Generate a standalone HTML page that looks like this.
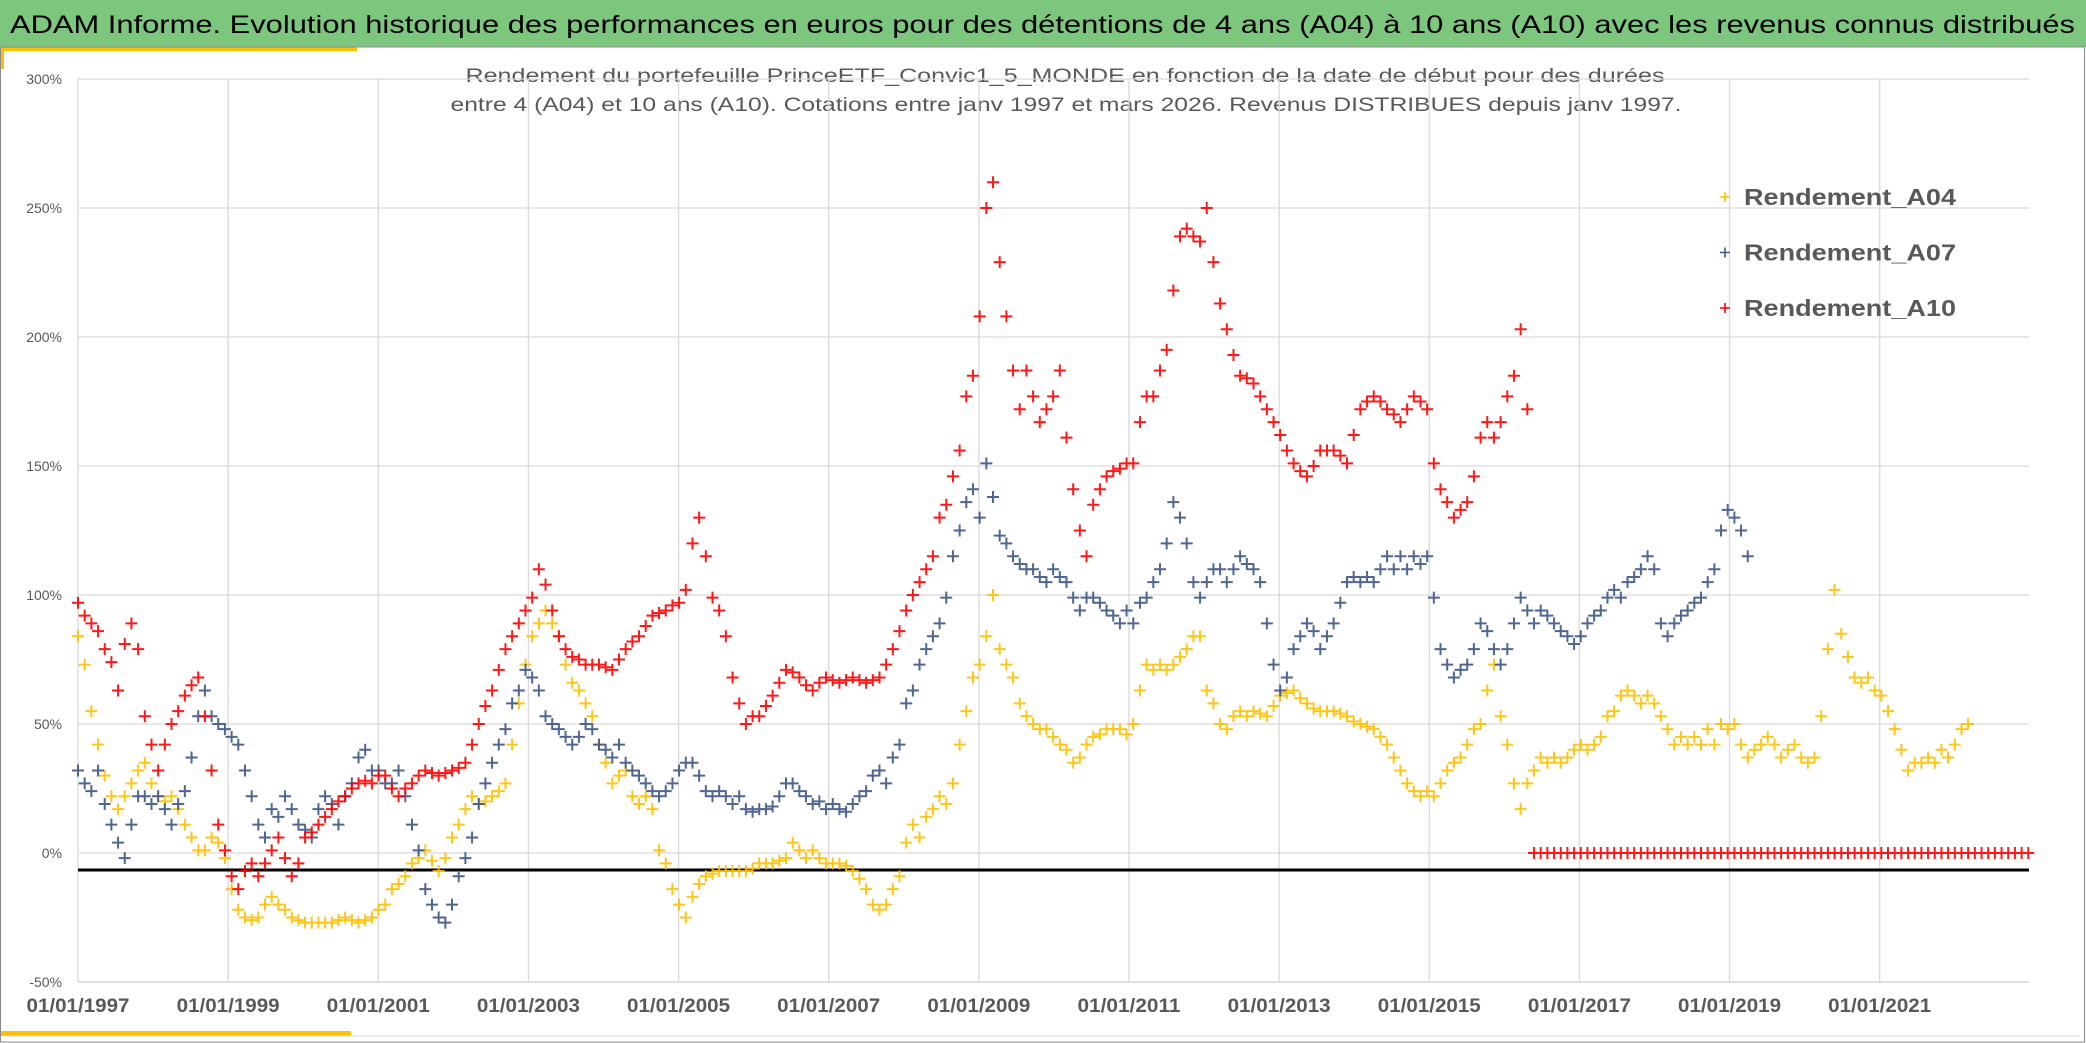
<!DOCTYPE html>
<html><head><meta charset="utf-8"><style>
html,body{margin:0;padding:0;background:#fff;}
svg{display:block;font-family:"Liberation Sans",sans-serif;}
</style></head><body>
<svg id="chart" width="2086" height="1043" viewBox="0 0 2086 1043" xmlns="http://www.w3.org/2000/svg">
<rect x="0" y="0" width="2086" height="1043" fill="#fff"/>
<rect x="0" y="0" width="2086" height="47" fill="#7cc67e"/>
<text x="10" y="33" font-size="25" fill="#000" textLength="2065" lengthAdjust="spacingAndGlyphs">ADAM Informe. Evolution historique des performances en euros pour des détentions de 4 ans (A04) à 10 ans (A10) avec les revenus connus distribués</text>
<rect x="0" y="47" width="357" height="4" fill="#ffc000"/>
<rect x="0" y="47" width="4" height="22" fill="#ffc000"/>
<rect x="0" y="1031" width="351" height="5" fill="#ffc000"/>
<rect x="0.5" y="47" width="2084" height="995" fill="none" stroke="#8a8a8a" stroke-width="1"/>
<line x1="4" y1="1036" x2="2080" y2="1036" stroke="#d9d9d9" stroke-width="1"/>
<text x="1065" y="82" font-size="19" fill="#595959" text-anchor="middle" textLength="1199" lengthAdjust="spacingAndGlyphs">Rendement du portefeuille PrinceETF_Convic1_5_MONDE  en fonction de la date de début pour des durées</text>
<text x="1066" y="111" font-size="19" fill="#595959" text-anchor="middle" textLength="1231" lengthAdjust="spacingAndGlyphs">entre 4 (A04) et 10 ans (A10). Cotations entre janv 1997 et mars 2026. Revenus DISTRIBUES depuis janv 1997.</text>
<g id="grid"></g>
<g id="marks"></g>
<g id="legend"></g>
</svg>
<script>
const yTicks = [-50, 0, 50, 100, 150, 200, 250, 300];
const yTickLabels = ["-50%","0%","50%","100%","150%","200%","250%","300%"];
const xTickYears = [1997,1999,2001,2003,2005,2007,2009,2011,2013,2015,2017,2019,2021];
const xTickLabels = ["01/01/1997","01/01/1999","01/01/2001","01/01/2003","01/01/2005","01/01/2007","01/01/2009","01/01/2011","01/01/2013","01/01/2015","01/01/2017","01/01/2019","01/01/2021"];
const seriesNames = ["Rendement_A04","Rendement_A07","Rendement_A10"];
const startYear = 1997.0;
const stepYears = 0.08897; // one observation every ~32.5 days
const baselineValue = -6.6;

const a04Values = [84,73,55,42,30,22,17,22,27,32,35,27,22,20,22,17,11,6,1,1,6,4,-2,-14,-22,-25,-26,-25,-20,-17,-20,-22,-25,-26,-27,-27,-27,-27,-27,-26,-25,-26,-27,-26,-25,-22,-20,-14,-12,-9,-4,-2,1,-3,-7,-2,6,11,17,22,19,20,22,24,27,42,58,73,84,89,94,89,84,73,66,63,58,53,42,35,27,30,32,22,19,22,17,1,-4,-14,-20,-25,-17,-12,-9,-8,-7,-7,-7,-7,-7,-6,-4,-4,-4,-3,-2,4,1,-2,1,-2,-4,-4,-4,-5,-7,-10,-14,-20,-22,-20,-14,-9,4,11,6,14,17,22,19,27,42,55,68,73,84,100,79,73,68,58,53,50,48,48,45,42,40,35,37,42,45,46,48,48,48,46,50,63,73,71,73,71,73,76,79,84,84,63,58,50,48,53,55,53,55,54,53,57,61,62,63,60,58,56,55,55,55,54,53,51,50,49,48,45,42,37,32,27,24,22,24,22,27,32,35,37,42,48,50,63,73,53,42,27,17,27,32,37,35,37,35,37,40,42,40,42,45,53,55,61,63,61,58,61,58,53,48,42,45,42,45,42,48,42,50,48,50,42,37,40,42,45,42,37,40,42,37,35,37,53,79,102,85,76,68,66,68,63,61,55,48,40,32,35,35,37,35,40,37,42,48,50];

const a07Values = [32,27,24,32,19,11,4,-2,11,22,22,19,22,17,11,19,24,37,53,63,53,50,48,45,42,32,22,11,6,17,14,22,17,11,9,6,17,22,19,11,22,27,37,40,32,32,27,27,32,22,11,1,-14,-20,-25,-27,-20,-9,-2,6,19,27,35,42,48,58,63,71,68,63,53,50,48,45,42,45,50,48,42,40,37,42,35,32,30,27,24,22,24,27,32,35,35,30,24,22,24,22,19,22,17,16,17,17,18,22,27,27,24,22,19,20,17,19,17,16,19,22,24,30,32,27,37,42,58,63,73,79,84,89,99,115,125,136,141,130,151,138,123,120,115,112,110,110,107,105,110,107,105,99,94,99,99,97,94,92,89,94,89,97,99,105,110,120,136,130,120,105,99,105,110,110,105,110,115,112,110,105,89,73,63,68,79,84,89,86,79,84,89,97,105,107,105,107,105,110,115,110,115,110,115,112,115,99,79,73,68,71,73,79,89,86,79,73,79,89,99,94,89,94,92,89,86,84,81,84,89,92,94,99,102,99,105,107,110,115,110,89,84,89,92,94,97,99,105,110,125,133,130,125,115];

const a10Values = [97,92,89,86,79,74,63,81,89,79,53,42,32,42,50,55,61,65,68,53,32,11,1,-9,-14,-7,-4,-9,-4,1,6,-2,-9,-4,6,8,11,14,17,20,22,25,27,28,27,30,30,25,22,25,27,30,32,31,30,31,32,33,35,42,50,57,63,71,79,84,89,94,99,110,104,94,84,79,76,75,73,73,73,72,71,75,79,82,84,88,92,93,94,96,97,102,120,130,115,99,94,84,68,58,50,53,53,57,61,66,71,70,68,65,63,66,68,67,66,67,68,67,66,67,68,73,79,86,94,100,105,110,115,130,135,146,156,177,185,208,250,260,229,208,187,172,187,177,167,172,177,187,161,141,125,115,135,141,146,148,149,151,151,167,177,177,187,195,218,239,242,239,237,250,229,213,203,193,185,184,182,177,172,167,162,156,151,148,146,150,156,156,156,154,151,162,172,175,177,175,172,170,167,172,177,175,172,151,141,136,130,133,136,146,161,167,161,167,177,185,203,172,
0,0,0,0,0,0,0,0,0,0,0,0,0,0,0,0,0,0,0,0,0,0,0,0,0,0,0,0,0,0,0,0,0,0,0,0,0,0,0,0,0,0,0,0,0,0,0,0,0,0,0,0,0,0,0,0,0,0,0,0,0,0,0,0,0,0,0,0,0,0,0,0,0,0,0];

const NS = "http://www.w3.org/2000/svg";
const plotLeft = 78, plotRight = 2029, pxPerYear = 75.07, zeroY = 853, pxPerPct = 2.58;
function xScale(year){ return plotLeft + (year - 1997) * pxPerYear; }
function yScale(v){ return zeroY - v * pxPerPct; }
function mk(tag, attrs, parent){ const e = document.createElementNS(NS, tag); for (const k in attrs) e.setAttribute(k, attrs[k]); parent.appendChild(e); return e; }

const grid = document.getElementById("grid");
yTicks.forEach((t, i) => {
  const y = yScale(t);
  const gl = mk("line", {x1: plotLeft, x2: plotRight, y1: y, y2: y, stroke: "#d9d9d9", "stroke-width": 1.3}, grid);
  
  
  const lb = mk("text", {x: 62, y: y + 5, "font-size": 14, fill: "#595959", "text-anchor": "end"}, grid);
  lb.textContent = yTickLabels[i];
  
  
});
xTickYears.forEach((yr, i) => {
  const x = xScale(yr);
  const gl = mk("line", {x1: x, x2: x, y1: yScale(300), y2: yScale(-50), stroke: "#d9d9d9", "stroke-width": 1.3}, grid);
  
  
  const lb = mk("text", {x: x, y: 1012, "font-size": 19, "font-weight": "bold", fill: "#595959", "text-anchor": "middle", textLength: 103, lengthAdjust: "spacingAndGlyphs"}, grid);
  lb.textContent = xTickLabels[i];
  
  
});
const ax = mk("line", {x1: plotLeft, x2: plotRight, y1: yScale(-50), y2: yScale(-50), stroke: "#d9d9d9", "stroke-width": 1.5}, grid);



const marks = document.getElementById("marks");
const bl = mk("line", {x1: plotLeft, x2: plotRight, y1: yScale(baselineValue), y2: yScale(baselineValue), stroke: "#000", "stroke-width": 3}, marks);



function drawSeries(vals, color, name){
  const g = mk("g", {stroke: color, "stroke-width": 2, fill: "none", opacity: 0.9}, marks);
  
  
  vals.forEach((v, i) => {
    const x = xScale(startYear + i * stepYears), y = yScale(v);
    const p = mk("path", {d: `M${x-6} ${y}h12M${x} ${y-6}v12`}, g);
    
    
  });
}
drawSeries(a04Values, "#ffc000", "series-a04");
drawSeries(a07Values, "#3d5688", "series-a07");
drawSeries(a10Values, "#ff0000", "series-a10");

const legend = document.getElementById("legend");
const legColors = ["#ffc000", "#3d5688", "#ff0000"];
seriesNames.forEach((n, i) => {
  const y = 197 + i * 55.5;
  const m = mk("path", {d: `M1720 ${y}h10M1725 ${y-5}v10`, stroke: legColors[i], "stroke-width": 1.6}, legend);
  
  
  const t = mk("text", {x: 1744, y: y + 8, "font-size": 23, "font-weight": "bold", fill: "#595959", textLength: 212, lengthAdjust: "spacingAndGlyphs"}, legend);
  t.textContent = n;
  
  
});
</script>
</body></html>
